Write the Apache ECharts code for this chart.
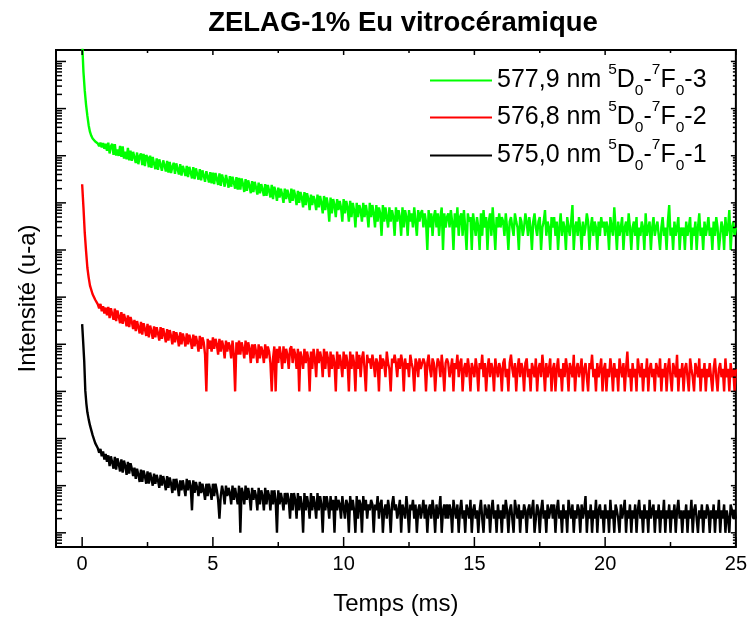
<!DOCTYPE html>
<html><head><meta charset="utf-8">
<script src="https://cdn.jsdelivr.net/npm/echarts@6/dist/echarts.min.js"></script>
<style>html,body{margin:0;padding:0;background:#fff}#c{width:750px;height:621px}</style>
</head><body><div id="c"></div><script>
// ---- data ----
const seriesNames = ['577,9 nm 5D0-7F0-3', '576,8 nm 5D0-7F0-2', '575,0 nm 5D0-7F0-1'];
const legendWavelengths = ['577,9', '576,8', '575,0'];
const legendIndex = ['3', '2', '1'];
const seriesColors = ['#00ff00', '#ff0000', '#000000'];
const seriesOffsets = [1e6, 1e3, 1];

// early decay [time ms, counts]
const greenEarly = [[0,26000],[0.05,6000],[0.1,2400],[0.15,1200],[0.2,700],[0.25,440],[0.3,320],[0.35,265],[0.4,232],[0.5,200],[0.6,182],[0.65,160],[0.7,190],[0.75,150],[0.8,185],[0.85,140],[0.9,180],[0.95,128]];
const redEarly = [[0,24800],[0.05,8000],[0.1,2300],[0.15,950],[0.2,420],[0.25,260],[0.3,175],[0.4,115],[0.5,88],[0.6,70],[0.65,58],[0.7,72],[0.75,50],[0.8,64],[0.85,45],[0.9,60],[0.95,41]];
const blackEarly = [[0,26800],[0.04,11000],[0.08,4300],[0.12,1050],[0.16,560],[0.2,360],[0.25,255],[0.3,190],[0.4,118],[0.5,80],[0.6,62],[0.65,50],[0.7,60],[0.75,42],[0.8,53],[0.85,36],[0.9,47],[0.95,32]];

// noisy tail: counts from t = 1.00 ms, every 0.05 ms
const tailStart = 1.0, tailStep = 0.05;
const greenTail = [
190,112,158,178,104,176,101,135,99,162,95,158,87,122,84,146,80,128,78,121,
121,70,117,66,98,112,63,109,60,103,92,57,101,55,94,68,52,88,50,84,
84,48,80,62,46,78,44,74,43,58,71,41,69,52,40,66,38,61,49,37,
61,35,58,44,33,57,32,54,41,31,52,30,49,38,28,47,36,27,45,26,
44,25,43,32,24,42,23,40,31,22,39,29,21,37,22,36,27,20,35,19,
34,19,33,25,17,32,18,30,23,16,29,17,28,21,15,27,16,25,19,14,
25,14,24,18,13,24,12,22,17,11,21,13,20,15,10,20,12,19,14,10,
20,11,19,14,9,18,10,17,13,8,17,9,16,12,7,15,9,14,11,7,
15,8,14,10,6,14,7,13,9,4,13,6,12,9,5,12,7,11,8,4,
12,6,11,8,4,11,5,10,7,3,10,5,9,7,4,10,5,9,6,3,
10,5,9,6,3,9,4,8,6,2,9,4,8,5,3,8,4,7,5,2,
8,4,7,5,2,8,3,7,5,2,7,4,6,3,8,4,2,7,4,6,
7,3,6,4,1,7,3,6,2,5,7,3,6,2,5,8,1,6,3,5,
6,3,7,4,1,6,3,8,2,5,6,2,7,3,1,6,4,5,1,6,
6,2,5,3,1,6,2,7,3,5,1,4,6,2,8,3,1,5,3,6,
3,5,4,2,6,3,1,4,5,3,2,6,4,3,1,5,4,2,3,6,
4,2,5,3,1,4,6,3,2,4,5,1,3,4,7,2,4,3,1,5,
3,5,2,4,1,3,6,2,4,3,1,5,3,2,4,9,1,3,4,2,
5,3,1,4,2,3,6,4,1,3,5,2,4,3,1,4,2,5,3,4,
2,4,3,1,5,3,2,8,3,1,4,2,3,5,1,3,4,2,6,3,
1,3,4,2,5,1,3,2,4,3,1,6,2,3,4,1,3,5,2,3,
4,2,1,3,5,2,3,1,4,9,2,3,1,4,2,3,5,1,3,2,
3,1,4,2,3,5,1,3,2,4,1,3,6,2,3,1,4,2,3,5,
2,3,1,4,2,5,3,1,2,4,3,1,5,2,3,7,1,3,4,2,
3];
const redTail = [
62,36,58,44,33,57,31,52,39,28,48,27,44,34,24,41,23,38,30,21,
33,19,31,23,17,30,16,28,21,15,27,14,25,19,13,24,14,23,17,12,
23,13,22,16,11,21,12,20,15,10,19,11,18,14,9,18,10,17,13,9,
17,10,16,12,8,16,9,15,11,7,15,8,14,11,6,1,13,8,12,7,
14,8,13,10,6,13,7,12,9,5,12,7,11,9,5,12,6,1,11,6,
12,6,11,8,5,12,6,11,8,4,10,5,10,7,4,10,5,9,7,4,
10,5,9,7,4,1,5,9,1,8,4,9,6,3,9,4,8,6,3,8,
9,4,8,6,3,8,1,7,5,3,8,4,7,5,1,7,3,8,5,2,
8,4,7,5,2,8,3,7,5,2,7,3,6,4,1,7,3,6,4,2,
7,3,6,4,1,7,3,6,4,1,7,3,6,2,5,7,3,1,6,4,
5,3,6,4,2,5,4,1,6,3,5,4,2,7,4,3,1,5,4,6,
4,2,5,3,6,4,1,5,3,4,2,6,4,3,1,5,4,2,5,3,
3,5,4,1,4,6,3,2,5,4,1,3,5,4,2,6,3,1,4,5,
4,2,3,5,1,4,3,6,2,4,5,1,3,4,2,5,3,1,4,3,
2,5,3,1,4,3,6,2,4,1,3,5,2,4,3,1,5,3,2,4,
3,1,4,5,2,3,1,4,6,3,2,4,1,3,5,2,4,3,1,4,
5,2,3,1,4,3,2,5,1,3,4,2,6,3,1,4,2,3,5,1,
3,4,1,3,5,2,3,1,4,2,5,3,1,4,3,2,6,1,3,4,
2,3,5,1,3,4,2,1,4,3,6,2,3,1,4,2,3,5,1,3,
4,1,3,2,5,3,1,4,2,3,1,5,3,2,4,1,3,7,2,3,
1,4,2,3,1,5,3,2,4,1,3,2,5,1,3,4,2,3,1,4,
3,2,5,1,3,2,4,1,3,5,2,1,4,3,2,6,1,3,2,4,
1,3,4,2,1,5,3,2,1,4,3,2,5,1,3,2,4,1,3,2,
4,2,1,3,5,2,1,3,4,2,3,1,5,2,3,1,4,2,3,1,
3];
const blackTail = [
44,26,42,31,23,41,22,38,29,20,36,19,34,26,17,32,18,30,23,16,
24,14,23,17,12,22,12,21,16,11,20,11,19,14,10,18,11,17,13,9,
17,10,16,12,8,16,9,15,11,7,14,8,14,10,6,13,8,13,9,6,
14,8,13,10,3,13,7,12,9,6,12,7,11,8,5,11,6,11,8,5,
11,6,11,8,5,2,6,10,7,4,10,6,9,7,4,10,5,9,6,4,
10,1,9,7,4,10,5,9,6,3,9,5,8,6,3,9,4,8,6,3,
9,4,8,6,3,8,4,8,5,1,8,4,7,5,3,7,4,7,5,2,
7,3,7,5,2,7,3,6,4,1,7,3,6,4,2,7,3,6,4,2,
7,3,6,4,1,6,3,6,4,2,6,3,5,1,6,3,5,4,2,6,
6,2,5,4,1,6,3,5,3,1,6,2,5,4,1,6,3,5,2,4,
3,5,4,1,4,3,6,2,4,5,1,3,4,2,5,3,1,4,6,3,
4,2,3,5,1,4,3,2,6,3,1,4,3,5,2,4,1,3,4,2,
3,5,2,4,1,3,4,2,5,3,1,4,2,3,6,1,3,4,2,4,
2,4,3,1,5,3,2,4,1,3,5,2,3,1,4,3,2,5,1,3,
4,2,3,1,3,5,2,1,4,3,2,4,1,3,5,2,3,1,4,2,
3,1,4,2,5,3,1,3,4,2,1,5,3,2,4,1,3,2,4,3,
1,3,4,2,3,5,1,2,4,3,1,3,5,2,3,1,4,2,3,4,
2,4,1,3,5,2,3,1,4,2,3,1,5,3,2,4,1,3,2,4,
3,1,4,2,3,6,1,3,2,4,1,3,2,5,1,3,4,2,3,1,
4,2,3,1,5,2,3,1,4,3,2,1,4,2,3,5,1,3,2,4,
1,3,2,4,1,3,5,2,3,1,4,2,3,1,5,2,3,4,1,3,
2,4,1,3,2,5,1,3,2,4,1,3,2,4,1,3,5,2,3,1,
3,2,4,1,3,2,5,1,3,4,2,1,3,2,4,1,3,2,4,3,
1,3,2,4,1,3,2,5,1,3,2,4,1,3,2,1,4,3,2,3,
2];

// axes
const xMin = -1, xMax = 25;
const yMin = 0.5, yMax = 1.75e10;
const xLabelValues = [0, 5, 10, 15, 20, 25];
const xMinorTicks = [2.5, 7.5, 12.5, 17.5, 22.5];
const yDecades = [-1, 0, 1, 2, 3, 4, 5, 6, 7, 8, 9, 10];
const yMultipliers = [1, 2, 3, 4, 5, 6, 7, 8, 9];

// ---- build ----
const early = [greenEarly, redEarly, blackEarly];
const tails = [greenTail, redTail, blackTail];
function buildSeriesData(k) {
  const off = seriesOffsets[k];
  const a = early[k].map(p => [p[0], p[1] * off]);
  const b = tails[k].map((c, i) => [+(tailStart + i * tailStep).toFixed(3), c * off]);
  return a.concat(b);
}

const tickSpecs = [];
xLabelValues.forEach(v => tickSpecs.push({ax: 'x', v: v, major: true}));
xMinorTicks.forEach(v => tickSpecs.push({ax: 'x', v: v, major: false}));
yDecades.forEach(d => yMultipliers.forEach(m => {
  const v = m * Math.pow(10, d);
  if (v >= yMin && v <= yMax) tickSpecs.push({ax: 'y', v: v, major: m === 1});
}));

const FONT = 'Liberation Sans, Arial, Helvetica, sans-serif';
const chart = echarts.init(document.getElementById('c'), null, {renderer: 'canvas'});

function lineEl(x1, y1, x2, y2) {
  return {type: 'line', shape: {x1, y1, x2, y2}, style: {stroke: '#000', lineWidth: 1.5}};
}

const series = seriesNames.map((n, k) => ({
  name: n, type: 'line', data: buildSeriesData(k),
  showSymbol: false, symbol: 'none', clip: true, animation: false,
  lineStyle: {color: seriesColors[k], width: 2.4}, itemStyle: {color: seriesColors[k]}
}));
series.push({
  type: 'custom', silent: true, animation: false, clip: false, z: 10,
  data: tickSpecs.map(() => [1, 1]),
  renderItem: function (params, api) {
    const s = tickSpecs[params.dataIndex];
    if (s.ax === 'y') {
      const pl = api.coord([xMin, s.v]);
      const pr = api.coord([xMax, s.v]);
      const l = s.major ? 10 : 6, r = s.major ? 5 : 3;
      return {type: 'group', children: [lineEl(pl[0], pl[1], pl[0] + l, pl[1]), lineEl(pr[0], pr[1], pr[0] - r, pr[1])]};
    } else {
      const pb = api.coord([s.v, yMin]);
      const pt = api.coord([s.v, yMax]);
      const l = s.major ? 10 : 5, r = s.major ? 5 : 3;
      return {type: 'group', children: [lineEl(pb[0], pb[1], pb[0], pb[1] - l), lineEl(pt[0], pt[1], pt[0], pt[1] + r)]};
    }
  }
});

const legendTops = [62, 99, 137];
const legends = seriesNames.map((n, k) => ({
  data: [n], left: 430, top: legendTops[k], orient: 'vertical', padding: 0,
  icon: 'rect', itemWidth: 62, itemHeight: 2, selectedMode: false,
  formatter: function () {
    return legendWavelengths[k] + ' nm {sup|5}D{sub|0}-{sup|7}F{sub|0}-' + legendIndex[k];
  },
  textStyle: {
    fontFamily: FONT, fontSize: 25, color: '#000', lineHeight: 37,
    rich: {
      sup: {fontFamily: FONT, fontSize: 15.5, lineHeight: 17, verticalAlign: 'top', color: '#000'},
      sub: {fontFamily: FONT, fontSize: 15.5, lineHeight: 17, verticalAlign: 'bottom', color: '#000'}
    }
  }
}));

chart.setOption({
  animation: false,
  backgroundColor: '#fff',
  title: {
    text: 'ZELAG-1% Eu vitrocéramique', left: 398, top: 4, textAlign: 'center',
    textStyle: {fontFamily: FONT, fontSize: 27.5, fontWeight: 'bold', color: '#000'}
  },
  legend: legends,
  grid: {left: 56, right: 10, top: 50, bottom: 73, show: true, borderColor: '#000', borderWidth: 2, backgroundColor: 'transparent'},
  xAxis: {
    type: 'value', min: xMin, max: xMax,
    name: 'Temps (ms)', nameLocation: 'middle', nameGap: 45,
    nameTextStyle: {fontFamily: FONT, fontSize: 24, color: '#000'},
    axisLine: {show: false}, axisTick: {show: false}, splitLine: {show: false},
    axisLabel: {
      customValues: xLabelValues, margin: 7,
      fontFamily: FONT, fontSize: 20, color: '#000',
      formatter: v => (v < 0 ? '' : String(v))
    }
  },
  yAxis: {
    type: 'log', logBase: 10, min: yMin, max: yMax,
    name: 'Intensité (u-a)', nameLocation: 'middle', nameGap: 16,
    nameTextStyle: {fontFamily: FONT, fontSize: 24, color: '#000'},
    axisLine: {show: false}, axisTick: {show: false}, axisLabel: {show: false},
    splitLine: {show: false}, minorTick: {show: false}
  },
  series: series
});
</script></body></html>
